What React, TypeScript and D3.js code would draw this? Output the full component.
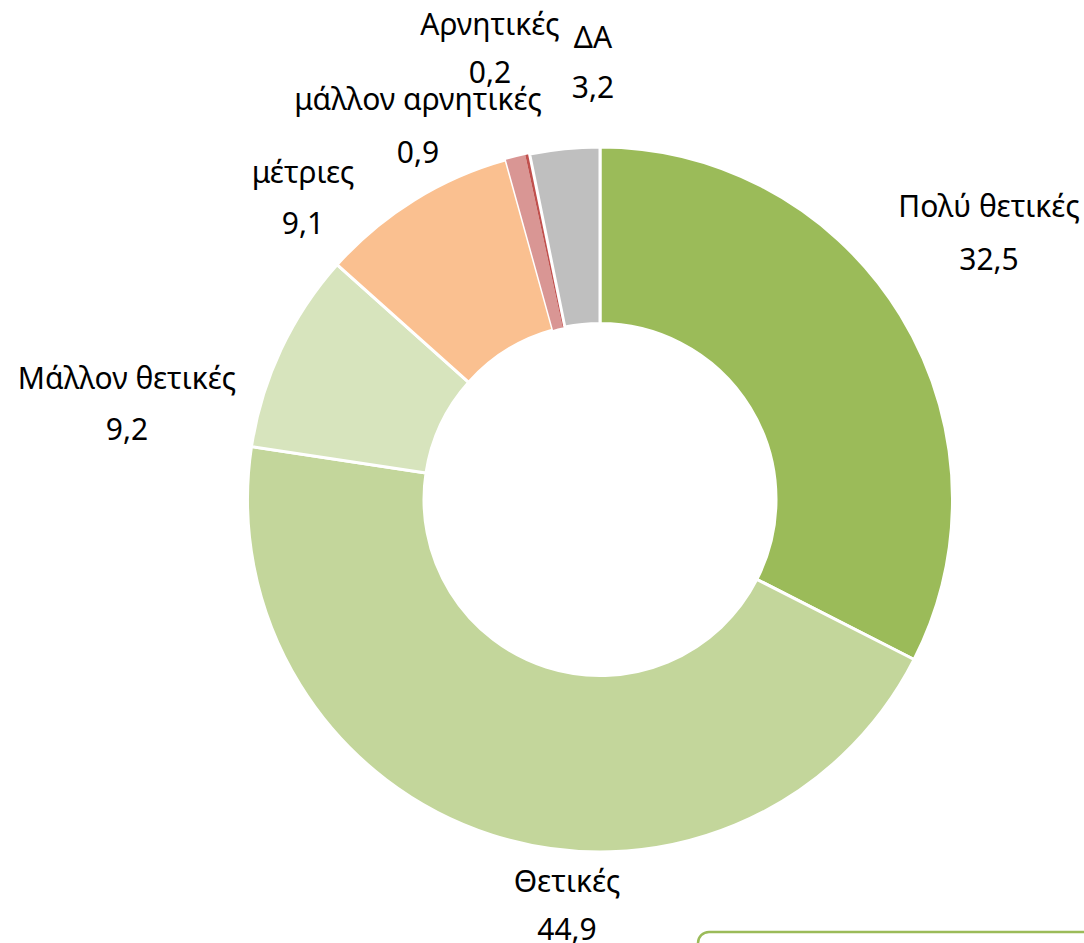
import React from "react";
import * as d3 from "d3";

const categories = ["Πολύ θετικές", "Θετικές", "Μάλλον θετικές", "μέτριες", "μάλλον αρνητικές", "Αρνητικές", "ΔΑ"];
const values = [32.5, 44.9, 9.2, 9.1, 0.9, 0.2, 3.2];
const valueLabels = ["32,5", "44,9", "9,2", "9,1", "0,9", "0,2", "3,2"];
const colors = ["#9BBB59", "#C3D69B", "#D7E4BD", "#FAC090", "#D99694", "#C0504D", "#BFBFBF"];
// label anchor positions (centre x, baseline y of name; value baseline)
const labelPos: [number, number, number][] = [
  [989, 217, 270],
  [567, 892, 940],
  [127, 389, 440],
  [303, 183, 234],
  [418, 110, 163],
  [490, 35, 83],
  [593, 48, 98],
];

const W = 1084;
const H = 943;
const cx = 600;
const cy = 499.5;
const outerR = 352.5;
const innerR = 176;

export default function App() {
  const pie = d3.pie<number>().sort(null).value((d) => d).startAngle(0).endAngle(2 * Math.PI);
  const arcs = pie(values);
  const arcGen = d3.arc<d3.PieArcDatum<number>>().innerRadius(innerR).outerRadius(outerR);
  const font = "'Noto Sans', 'Open Sans', sans-serif";
  return (
    <svg width={W} height={H} style={{ position: "absolute", left: 0, top: 0, background: "#fff" }}>
      <g transform={`translate(${cx},${cy})`}>
        {arcs.map((a, i) => (
          <path
            key={i}
            d={arcGen(a) || ""}
            fill={colors[i]}
            stroke="#fff"
            strokeWidth={values[i] < 1 ? 0 : 3}
            strokeLinejoin="round"
          />
        ))}
      </g>
      {categories.map((c, i) => (
        <g key={c} fontFamily={font} fontSize={30} fill="#000" textAnchor="middle">
          <text x={labelPos[i][0]} y={labelPos[i][1]}>{c}</text>
          <text x={labelPos[i][0]} y={labelPos[i][2]}>{valueLabels[i]}</text>
        </g>
      ))}
      <rect x={698} y={932} width={420} height={60} rx={11} ry={11} fill="#fff" stroke="#9BBB59" strokeWidth={2.5} />
    </svg>
  );
}
